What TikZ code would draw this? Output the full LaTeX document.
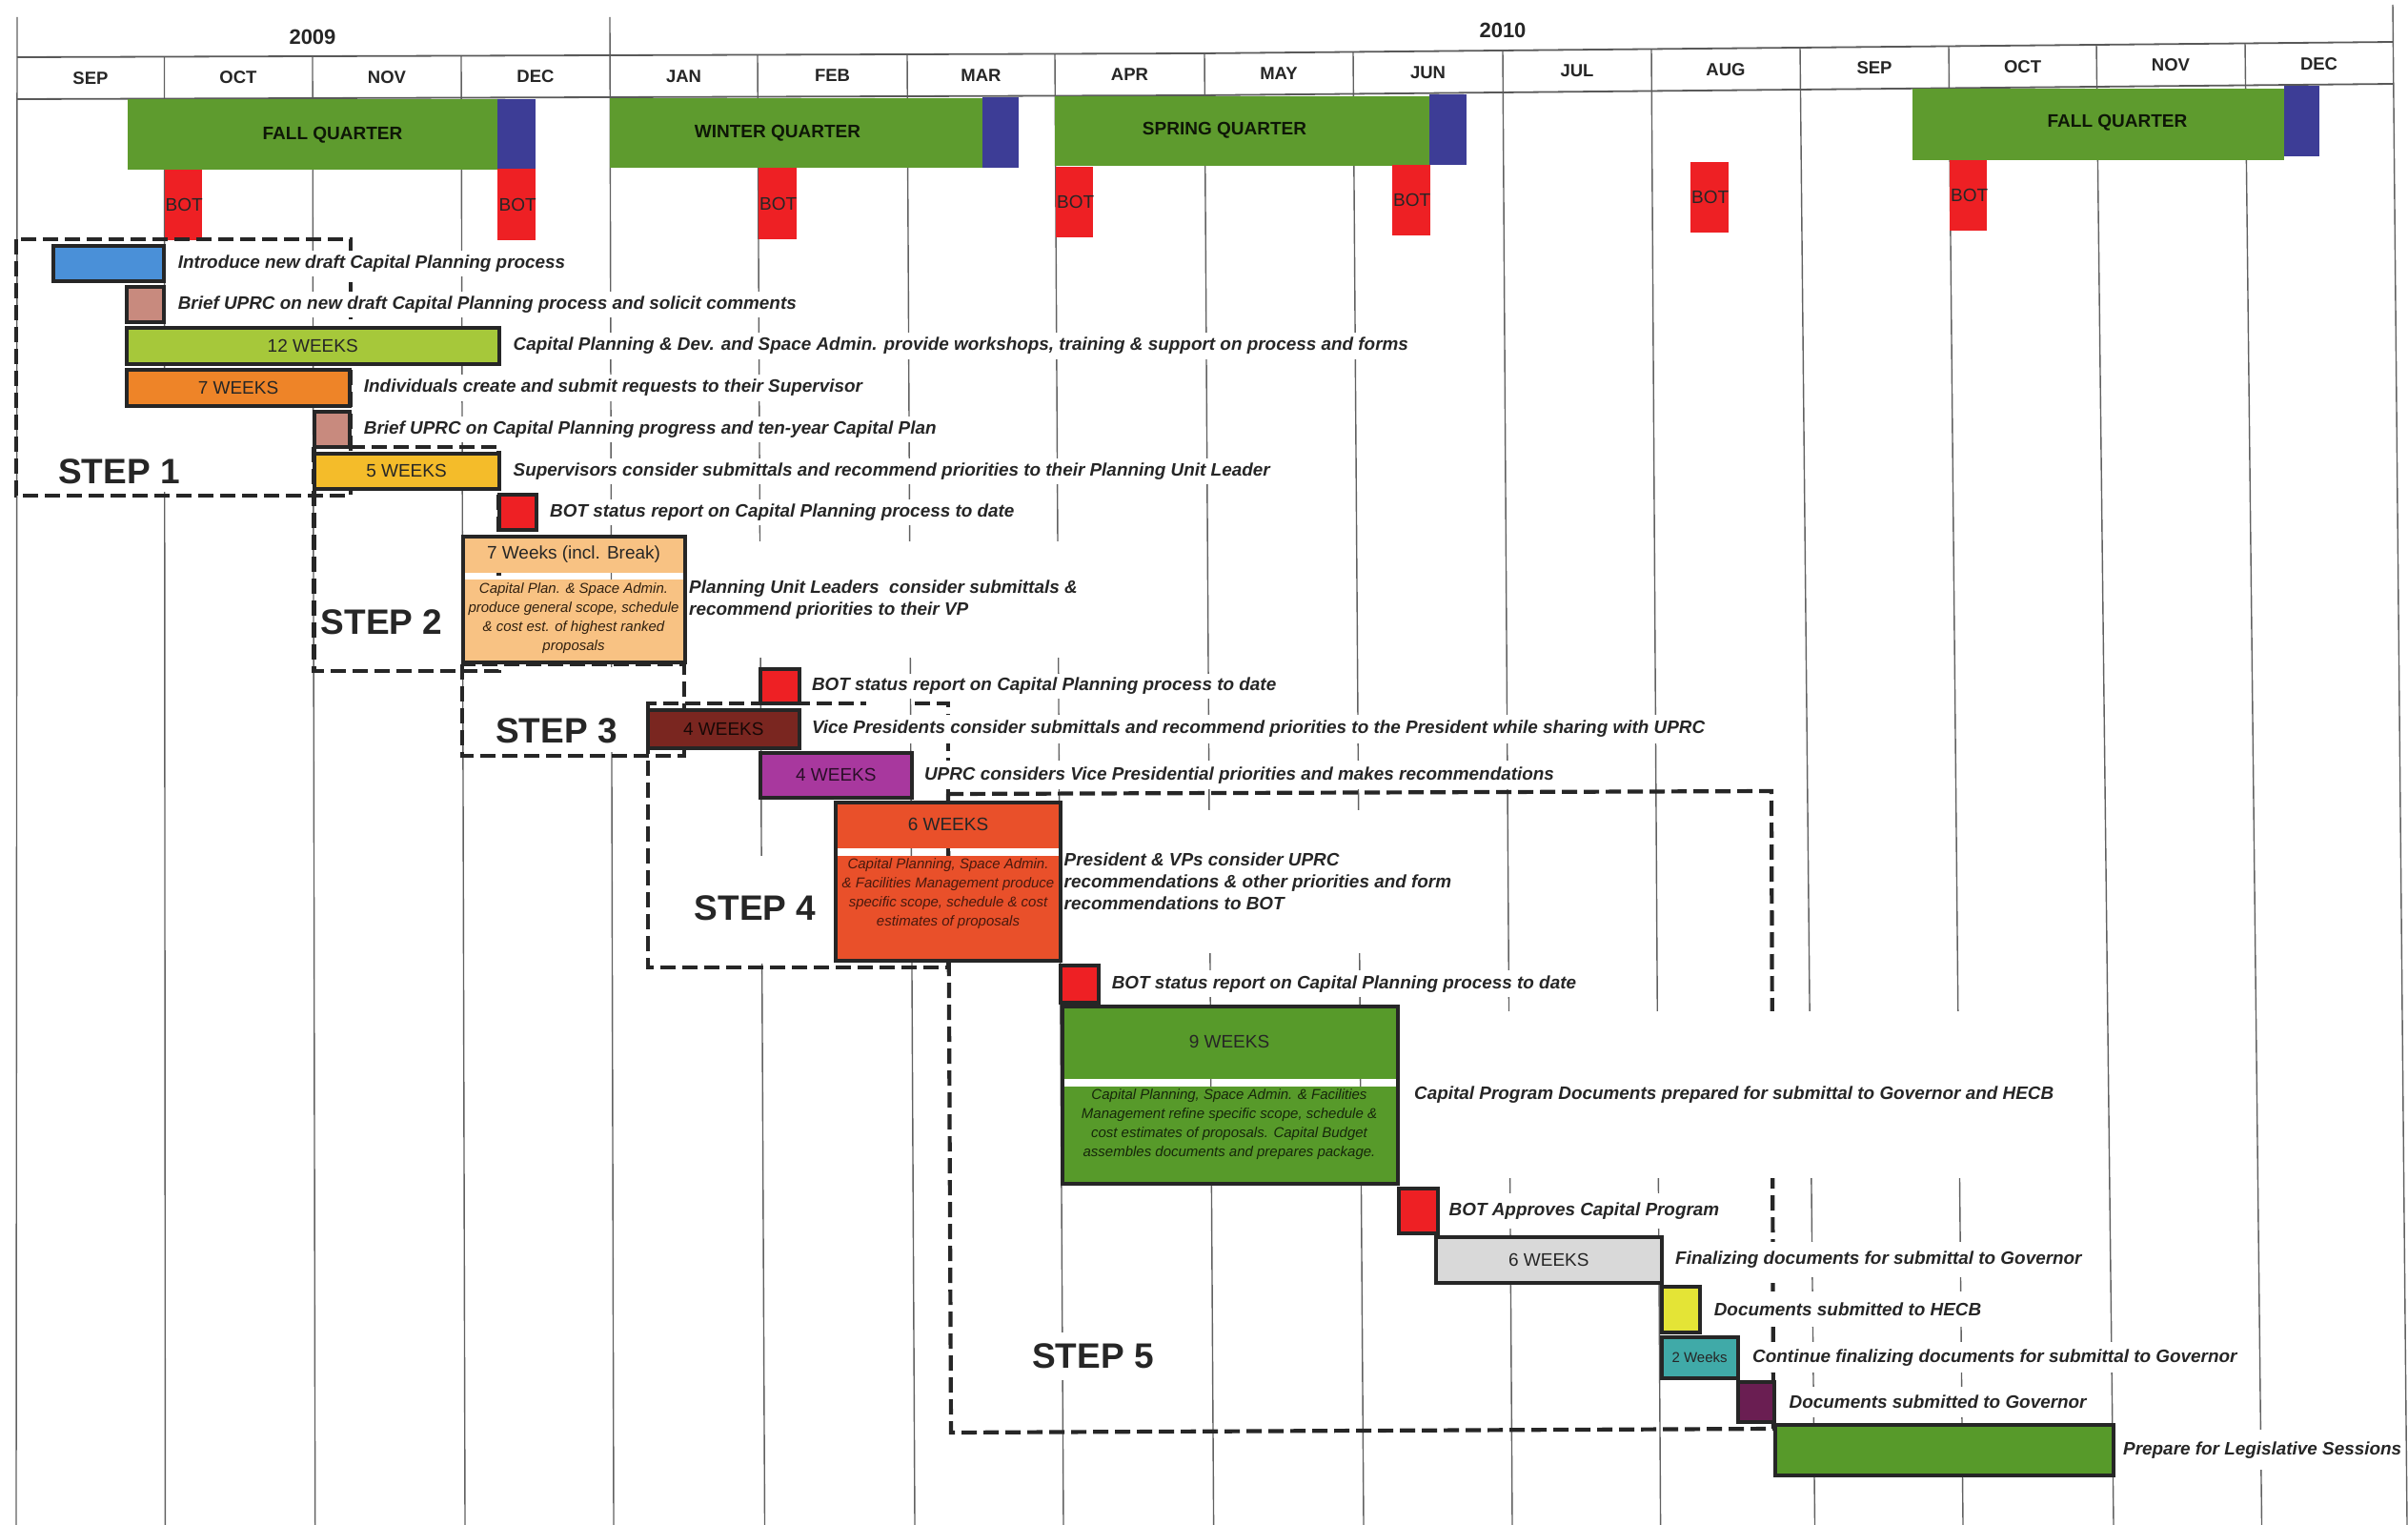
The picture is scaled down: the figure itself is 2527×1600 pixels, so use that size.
\documentclass[tikz,border=0pt]{standalone}
\usepackage{fontspec}
\setmainfont{Liberation Sans}
\definecolor{qgreen}{HTML}{5E9B2E}
\definecolor{qblue}{HTML}{3D3D96}
\definecolor{botred}{HTML}{EE2024}
\definecolor{cblue}{HTML}{4A90D8}
\definecolor{cpink}{HTML}{C88A7E}
\definecolor{clime}{HTML}{A6C83A}
\definecolor{corange}{HTML}{EE8428}
\definecolor{cyellow}{HTML}{F4BC2A}
\definecolor{cred}{HTML}{EE2024}
\definecolor{clorange}{HTML}{F8C283}
\definecolor{cmaroon}{HTML}{7A2620}
\definecolor{cmagenta}{HTML}{A8389E}
\definecolor{cvermil}{HTML}{E9502A}
\definecolor{cgreen}{HTML}{579A2A}
\definecolor{cgray}{HTML}{D9D9D9}
\definecolor{cyel}{HTML}{E4E436}
\definecolor{cteal}{HTML}{40AAA8}
\definecolor{cpurple}{HTML}{6A1E52}
\definecolor{ink}{HTML}{262626}
\newcommand{\mkbar}[7]{\node[gbar, fill=#6, minimum width={#4-#2}, minimum height={#5-#3}] (#1) at ({(#2+#4)/2},{(#3+#5)/2}) {#7};}
\newcommand{\mkframe}[5]{\node[gbar, minimum width={#4-#2}, minimum height={#5-#3}] (#1) at ({(#2+#4)/2},{(#3+#5)/2}) {};}
\begin{document}
\begin{tikzpicture}[x=1pt,y=-1pt,
  gridln/.style={line width=1.4pt, draw=black!62},
  hdrln/.style={line width=1.8pt, draw=black!65},
  stepbox/.style={draw=ink, line width=4.2pt, dash pattern=on 16pt off 7pt},
  gbar/.style={draw=ink, line width=4pt, rectangle, inner sep=0pt, outer sep=0pt, font=\fontsize{19}{22}\selectfont, text=ink},
  barlab/.style={font=\fontsize{19}{22}\selectfont, text=ink, inner sep=0pt},
  inlab/.style={font=\itshape\fontsize{15}{20}\selectfont, align=center, inner sep=0pt},
  rowlab/.style={anchor=west, fill=white, inner xsep=2pt, inner ysep=0pt, font=\bfseries\itshape\fontsize{18.9}{23}\selectfont, align=left, text=ink},
  steplab/.style={font=\bfseries\fontsize{37}{40}\selectfont, text=ink, fill=white, inner sep=4pt},
  monthlab/.style={font=\bfseries\fontsize{18.5}{20}\selectfont, text=ink, inner sep=0pt},
  yearlab/.style={font=\bfseries\fontsize{22}{24}\selectfont, text=ink, inner sep=0pt},
  qlab/.style={font=\bfseries\fontsize{19}{21}\selectfont, text=black!85!qgreen, inner sep=0pt},
  botlab/.style={anchor=west, font=\fontsize{19}{21}\selectfont, text=black!85, inner sep=0pt},
]
\useasboundingbox[fill=white] (0,0) rectangle (2527,1600);

% ---------- grid ----------
\foreach \xt/\yt/\xb in {18/18/17, 172.5/59.5/173.4, 328/59/330.7, 484/58.5/488, 640/18/644, 795/57.6/802.5, 952/57/960, 1107/56.5/1116, 1264/56/1273.6, 1420/54.5/1431, 1577/53/1587, 1733/51.5/1742.6, 1889/50/1904.5, 2045/48.5/2060, 2200/47/2218, 2356/45.5/2373.5, 2511/5/2526}
  \draw[gridln] (\xt,\yt) -- (\xb,1600);
\draw[hdrln] (18,60) -- (1260,56) -- (2511,44);
\draw[hdrln] (18,104) -- (1260,100) -- (2511,88);

\node[yearlab] (y09) at (328,39) {2009};
\node[yearlab] (y10) at (1577,32) {2010};
\foreach \x/\y/\m [count=\i] in {95/82/SEP, 250/81.5/OCT, 406/81/NOV, 562/80.5/DEC, 717.5/80/JAN, 873.5/79.5/FEB, 1029.5/79/MAR, 1185.5/78.5/APR, 1342/77/MAY, 1498.5/76/JUN, 1655/74/JUL, 1811/73/AUG, 1967/71.5/SEP, 2122.5/70/OCT, 2278/68.5/NOV, 2433.5/67/DEC}
  \node[monthlab] (m\i) at (\x,\y) {\m};

% ---------- quarters ----------
\fill[qgreen] (133.6,104) rectangle (522.4,178);
\fill[qblue] (522.4,104) rectangle (562,177);
\fill[qgreen] (640,103) rectangle (1031,176);
\fill[qblue] (1031,102) rectangle (1069,175.6);
\fill[qgreen] (1107,101) rectangle (1500,174);
\fill[qblue] (1500,99) rectangle (1539,172.7);
\fill[qgreen] (2006.6,93.5) rectangle (2397,168);
\fill[qblue] (2397,90) rectangle (2434,164);
\node[qlab] (q1) at (349,141.7) {FALL QUARTER};
\node[qlab] (q2) at (816,140) {WINTER QUARTER};
\node[qlab] (q3) at (1285,136.7) {SPRING QUARTER};
\node[qlab] (q4) at (2222,128.3) {FALL QUARTER};

% ---------- BOT meetings ----------
\foreach \xa/\ya/\xb/\yb [count=\i] in {172.5/178/212/252, 522.4/177/562/252, 796/176/836/251, 1108/175/1147/249, 1461/173/1501/247, 1774/170/1813.5/244, 2046/168/2085/242}{
  \fill[botred] (\xa,\ya) rectangle (\xb,\yb);
  \node[botlab] (bot\i) at ({\xa+1},{(\ya+\yb)/2}) {BOT};
}

% ---------- masks behind step labels ----------
\fill[white] (21,428) rectangle (327,516);
\fill[white] (489,700) rectangle (676,789);
\fill[white] (684,898) rectangle (874,1011);

% ---------- step boxes ----------
\draw[stepbox] (17,251) rectangle (368,520);
\draw[stepbox] (329.5,468.6) rectangle (523.5,704);
\draw[stepbox] (485,697) rectangle (718,793);
\draw[stepbox] (960,738) -- (995,738) -- (995,1015) -- (680,1015) -- (680,738) -- (909,738);
\draw[stepbox] (995,833) -- (1859,830) -- (1861,1499) -- (998,1503) -- cycle;

% ---------- bars ----------
\mkbar{b1}{55.7}{258}{172}{295}{cblue}{}
\mkbar{b2}{133}{300.7}{172}{338}{cpink}{}
\mkbar{b3}{133}{344}{523.5}{382}{clime}{12 WEEKS}
\mkbar{b4}{133}{387.5}{367}{425.7}{corange}{7 WEEKS}
\mkbar{b5}{329.5}{431.8}{367}{468.6}{cpink}{}
\mkbar{b6}{329.5}{475.7}{523.5}{513}{cyellow}{5 WEEKS}
\mkbar{b7}{523.5}{519}{562.6}{556}{cred}{}

\fill[clorange] (485.6,563) rectangle (718.7,600.7);
\fill[clorange] (485.6,608) rectangle (718.7,695);
\mkframe{b8}{485.6}{563}{718.7}{695}
\node[barlab] (b8a) at (602,582) {7 Weeks (incl. Break)};
\node[inlab, text=black!75!brown] (b8b) at (602,648.6) {Capital Plan. \& Space Admin.\\produce general scope, schedule\\\& cost est. of highest ranked\\proposals};

\mkbar{b9}{797.6}{701.7}{839}{738}{cred}{}
\mkbar{b10}{679.6}{745}{839}{785}{cmaroon}{\textcolor{black!80!cmaroon}{4 WEEKS}}
\mkbar{b11}{797.6}{790}{957}{836.7}{cmagenta}{\textcolor{black!75!cmagenta}{4 WEEKS}}

\fill[cvermil] (877,841.7) rectangle (1113,890);
\fill[cvermil] (877,898) rectangle (1113,1008);
\mkframe{b12}{877}{841.7}{1113}{1008}
\node[barlab] (b12a) at (995,865) {6 WEEKS};
\node[inlab, text=black!55!cvermil!70!black] (b12b) at (995,938) {Capital Planning, Space Admin.\\\& Facilities Management produce\\specific scope, schedule \& cost\\estimates of proposals};

\mkbar{b13}{1113}{1013}{1152.8}{1051.7}{cred}{}

\fill[cgreen] (1114.5,1056) rectangle (1467,1131.7);
\fill[cgreen] (1114.5,1140) rectangle (1467,1241.7);
\mkframe{b14}{1114.5}{1056}{1467}{1241.7}
\node[barlab] (b14a) at (1290,1093) {9 WEEKS};
\node[inlab, text=black!75!cgreen] (b14b) at (1290,1180) {Capital Planning, Space Admin. \& Facilities\\Management refine specific scope, schedule \&\\cost estimates of proposals. Capital Budget\\assembles documents and prepares package.};

\mkbar{b15}{1467.6}{1246.7}{1509}{1294}{cred}{}
\mkbar{b16}{1507}{1298}{1743.6}{1345.7}{cgray}{6 WEEKS}
\mkbar{b17}{1743.6}{1350}{1784}{1397.7}{cyel}{}
\mkbar{b18}{1743.6}{1403}{1823.5}{1445.7}{cteal}{\fontsize{15}{17}\selectfont 2 Weeks}
\mkbar{b19}{1823.5}{1450}{1862}{1492}{cpurple}{}
\mkbar{b20}{1863}{1495}{2218}{1547.7}{cgreen}{}

% ---------- row texts ----------
\node[rowlab, minimum height=27] (t1) at ([xshift=12.6]b1.east) {Introduce new draft Capital Planning process};
\node[rowlab, minimum height=27] (t2) at ([xshift=12.6]b2.east) {Brief UPRC on new draft Capital Planning process and solicit comments};
\node[rowlab, minimum height=28] (t3) at ([xshift=13]b3.east) {Capital Planning \& Dev. and Space Admin. provide workshops, training \& support on process and forms};
\node[rowlab, minimum height=28] (t4) at ([xshift=12.7]b4.east) {Individuals create and submit requests to their Supervisor};
\node[rowlab, minimum height=27] (t5) at ([xshift=12.7]b5.east) {Brief UPRC on Capital Planning progress and ten-year Capital Plan};
\node[rowlab, minimum height=27] (t6) at ([xshift=13]b6.east) {Supervisors consider submittals and recommend priorities to their Planning Unit Leader};
\node[rowlab, minimum height=27] (t7) at ([xshift=12.4]b7.east) {BOT status report on Capital Planning process to date};
\node[rowlab, minimum height=122] (t8) at ([xshift=2.3]b8.east) {Planning Unit Leaders~ consider submittals \&\\recommend priorities to their VP};
\node[rowlab, minimum height=26] (t9) at ([xshift=10.8]b9.east) {BOT status report on Capital Planning process to date};
\node[rowlab, minimum height=30] (t10) at ([xshift=10.8]b10.east) {Vice Presidents consider submittals and recommend priorities to the President while sharing with UPRC};
\node[rowlab, minimum height=30] (t11) at ([xshift=10.8]b11.east) {UPRC considers Vice Presidential priorities and makes recommendations};
\node[rowlab, minimum height=150] (t12) at ([xshift=1.5]b12.east) {President \& VPs consider UPRC\\recommendations \& other priorities and form\\recommendations to BOT};
\node[rowlab, minimum height=28] (t13) at ([xshift=11.8]b13.east) {BOT status report on Capital Planning process to date};
\node[rowlab, minimum height=175] (t14) at ([xshift=15]b14.east) {Capital Program Documents prepared for submittal to Governor and HECB};
\node[rowlab, minimum height=37] (t15) at ([xshift=9.5]b15.east) {BOT Approves Capital Program};
\node[rowlab, minimum height=37] (t16) at ([xshift=12.4]b16.east) {Finalizing documents for submittal to Governor};
\node[rowlab, minimum height=37] (t17) at ([xshift=12.6]b17.east) {Documents submitted to HECB};
\node[rowlab, minimum height=32] (t18) at ([xshift=13.5]b18.east) {Continue finalizing documents for submittal to Governor};
\node[rowlab, minimum height=32] (t19) at ([xshift=13.5]b19.east) {Documents submitted to Governor};
\node[rowlab, minimum height=42] (t20) at ([xshift=8]b20.east) {Prepare for Legislative Sessions};

% ---------- step labels ----------
\node[steplab] (s1) at (125,495) {STEP 1};
\node[steplab] (s2) at (400.5,652.5) {STEP 2};
\node[steplab] (s3) at (584,766.7) {STEP 3};
\node[steplab] (s4) at (792.5,953) {STEP 4};
\node[steplab, inner ysep=12pt] (s5) at (1147,1422.7) {STEP 5};
\end{tikzpicture}
\end{document}
